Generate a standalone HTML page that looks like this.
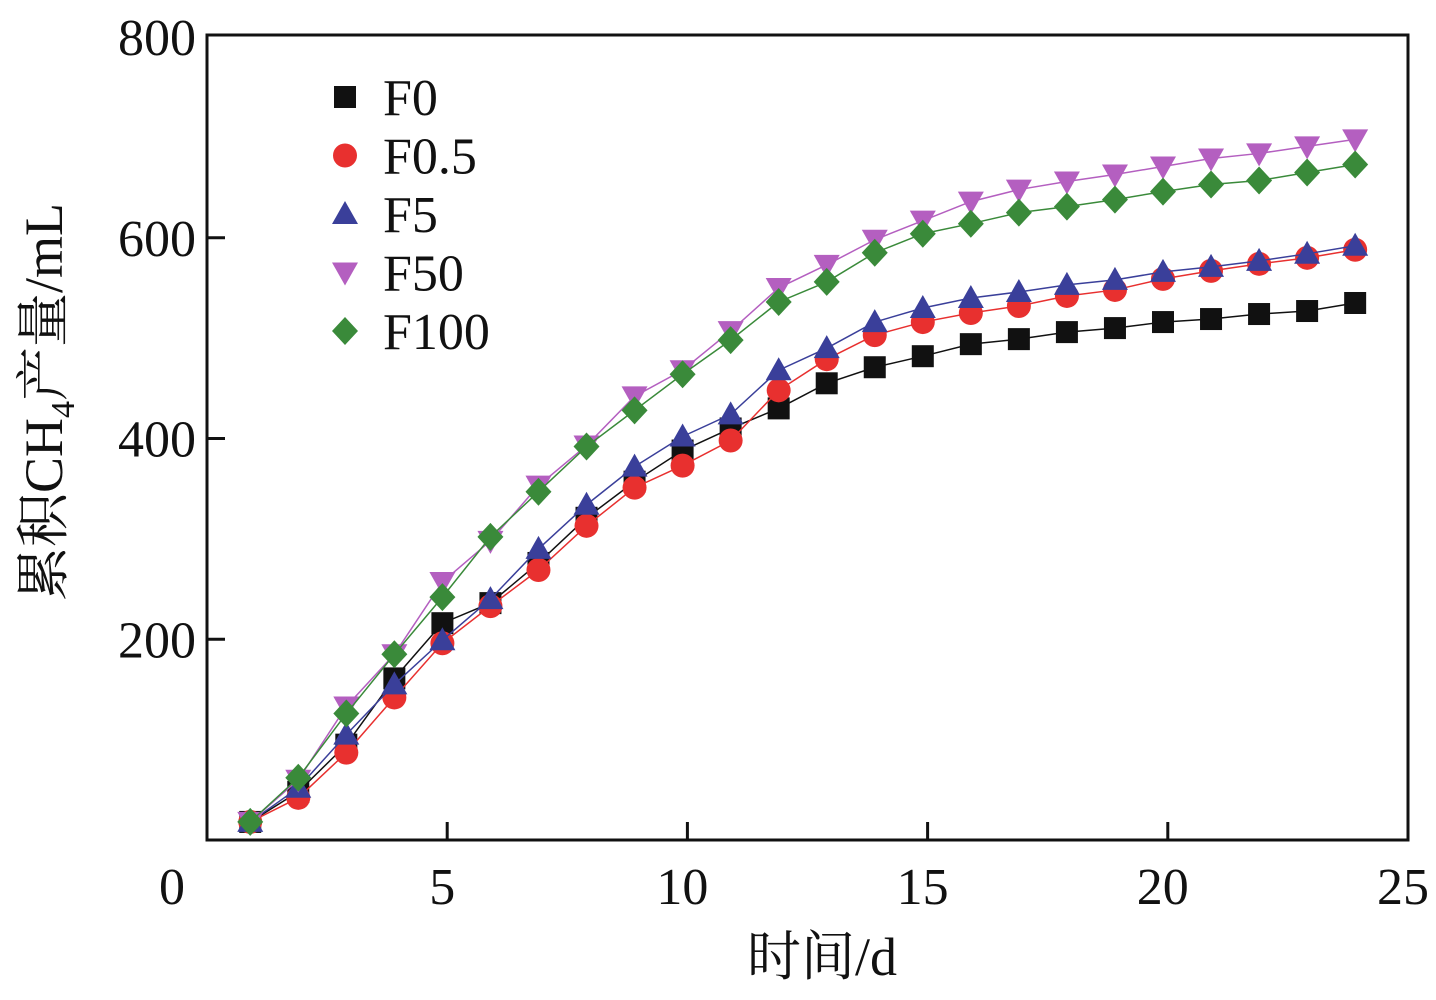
<!DOCTYPE html>
<html><head><meta charset="utf-8"><style>
body{margin:0;background:#fff;}
</style></head><body>
<svg id="chart" width="1436" height="995" viewBox="0 0 1436 995" xmlns="http://www.w3.org/2000/svg" font-family="'Liberation Serif', 'Noto Serif CJK SC', serif">
<g id="grid"></g>
<g id="series"></g>
<g id="legend"></g>
</svg>
<script>
const days = [0.9,1.9,2.9,3.9,4.9,5.9,6.9,7.9,8.9,9.9,10.9,11.9,12.9,13.9,14.9,15.9,16.9,17.9,18.9,19.9,20.9,21.9,22.9,23.9];
const f0   = [18,48,95,161,216,236,276,321,357,388,410,430,455,471,482,494,499,506,510,516,519,524,527,535];
const f05  = [18,42,87,142,196,233,269,313,351,373,398,448,479,503,516,525,532,542,548,559,567,574,580,588];
const f5   = [18,52,105,155,199,240,290,334,372,402,424,468,490,516,530,540,546,553,558,566,571,577,584,592];
const f50  = [18,60,133,185,257,298,353,393,442,468,507,550,573,598,617,636,648,656,663,671,679,684,691,698];
const f100 = [18,62,126,185,242,302,347,392,428,464,498,536,556,585,604,614,625,631,638,646,653,657,665,673];
const xTicks = [0,5,10,15,20,25];
const yTicks = [200,400,600,800];
const seriesNames = ["F0","F0.5","F5","F50","F100"];

const NS="http://www.w3.org/2000/svg";
const L=207,R=1408,T=37,B=840;
const FF="'Liberation Serif', 'Noto Serif CJK SC', serif";
const xs=v=>L+v*(R-L)/25;
const ys=v=>B-v*(B-T)/800;
function mk(tag,attrs,parent){const e=document.createElementNS(NS,tag);for(const k in attrs)e.setAttribute(k,attrs[k]);parent.appendChild(e);return e;}
const g=document.getElementById('grid');
const frame=mk('rect',{x:L,y:T-2,width:R-L,height:B-T+2,fill:'none',stroke:'#111','stroke-width':3},g);


xTicks.forEach(t=>{
  const x=xs(t);
  if(t>0&&t<25){const tk=mk('line',{x1:x,x2:x,y1:B,y2:B-18,stroke:'#111','stroke-width':3},g);
  
  }
  const tx=mk('text',{x:t==0?172:x-5,y:904,'font-size':52,'text-anchor':'middle',fill:'#111','font-family':FF},g);
  tx.textContent=t;
  
  
});
yTicks.forEach(t=>{
  const y=ys(t);
  if(t<800){const tk=mk('line',{x1:L,x2:L+18,y1:y,y2:y,stroke:'#111','stroke-width':3},g);
  
  }
  const tx=mk('text',{x:196,y:y+18,'font-size':52,'text-anchor':'end',fill:'#111','font-family':FF},g);
  tx.textContent=t;
  
  
});
const xt=mk('text',{x:822,y:975,'font-size':54,'text-anchor':'middle',fill:'#111','font-family':FF},g);
xt.textContent='时间/d';


const yt=mk('text',{transform:'translate(62,402) rotate(-90)','font-size':54,'text-anchor':'middle',fill:'#111','font-family':FF},g);
yt.innerHTML='累积CH<tspan font-size="34" dy="12">4</tspan><tspan dy="-12">产量/mL</tspan>';



function marker(type,x,y,color,parent){
  let e;
  if(type=='sq') e=mk('rect',{x:x-11,y:y-11,width:22,height:22,fill:color},parent);
  else if(type=='ci') e=mk('circle',{cx:x,cy:y,r:12,fill:color},parent);
  else if(type=='up') e=mk('polygon',{points:`${x},${y-13} ${x-13},${y+10} ${x+13},${y+10}`,fill:color},parent);
  else if(type=='dn') e=mk('polygon',{points:`${x},${y+13} ${x-13},${y-10} ${x+13},${y-10}`,fill:color},parent);
  else e=mk('polygon',{points:`${x},${y-14} ${x+13},${y} ${x},${y+14} ${x-13},${y}`,fill:color},parent);
  return e;
}
const defs=[[f0,'#111','sq'],[f05,'#e8302f','ci'],[f5,'#3a3f9a','up'],[f50,'#b45fc0','dn'],[f100,'#3a8a3a','di']];
const sg=document.getElementById('series');
defs.forEach((d,i)=>{
  const [vals,color,type]=d;
  const grp=mk('g',{},sg);
  
  
  const pts=vals.map((v,j)=>xs(days[j])+','+ys(v)).join(' ');
  mk('polyline',{points:pts,fill:'none',stroke:color,'stroke-width':1.5},grp);
  vals.forEach((v,j)=>{
    const m=marker(type,xs(days[j]),ys(v),color,grp);
    
    
  });
});
const lg=document.getElementById('legend');
defs.forEach((d,i)=>{
  const y=97+i*58.5;
  const m=marker(d[2],345,y,d[1],lg);
  
  
  const t=mk('text',{x:383,y:y+18,'font-size':52,fill:'#111','font-family':FF},lg);
  t.textContent=seriesNames[i];
  
  
});
</script>
</body></html>
